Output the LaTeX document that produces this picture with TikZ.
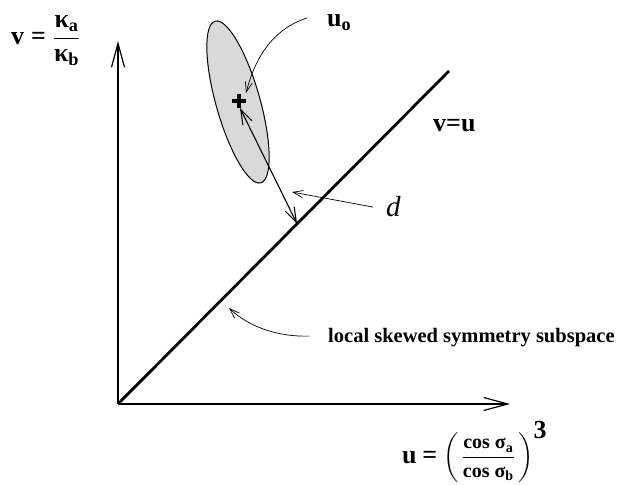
\documentclass[tikz,border=0pt]{standalone}
\usepackage{amsmath}
\usepackage{fontspec}
\setmainfont{Liberation Serif}
\usetikzlibrary{arrows.meta,calc}

\newcommand{\bigfont}{\bfseries\fontsize{26}{30}\selectfont}
\newcommand{\beq}{\mathrel{\text{=}}}

\begin{document}
\begin{tikzpicture}[x=1pt,y=1pt,
        axis/.style={line width=1.2pt,-{Straight Barb[length=24pt,width=13pt]}},
        pointer/.style={line width=0.7pt,-{Straight Barb[length=10pt,width=7pt]}},
        distarrow/.style={line width=1.1pt,{Straight Barb[length=15pt,width=10pt]}-{Straight Barb[length=15pt,width=10pt]}},
        lbl/.style={inner sep=0pt,font=\bigfont}]
        \useasboundingbox (0,0) rectangle (622,485);

        % Оси.
        \coordinate (O) at (118,81);
        \coordinate (vtop) at (118,444);
        \coordinate (uend) at (510,81);
        \draw[axis] (O) -- (vtop);
        \draw[axis] (O) -- (uend);

        % Подпространство v=u.
        \coordinate (D) at (449,414);
        \draw[line width=2.8pt] (O) -- (D);

        % Эллипс вокруг точки.
        \coordinate (E) at (238,383);
        \draw[fill=gray!30,line width=1pt,rotate around={15.8:(E)}]
            (E) ellipse (22pt and 84pt);

        % Точка u_o.
        \coordinate (P) at (239,384);
        \draw[line width=3.2pt] ($(P)+(-7,0)$) -- ($(P)+(7,0)$);
        \draw[line width=3.2pt] ($(P)+(0,-7)$) -- ($(P)+(0,7)$);

        % Расстояние d.
        \coordinate (F) at ($(O)!0.541!(D)$);
        \coordinate (Ptop) at ($(P)+(1,-7)$);
        \draw[distarrow] (Ptop) -- (F);

        % Подписи.
        \node[lbl,anchor=base west] (uo) at (327,458) {$\mathbf{u}_{\mathbf{o}}$};
        \node[lbl,anchor=base west] (vu) at (433,353) {v=u};
        \node[inner sep=0pt,anchor=base west,font=\itshape\fontsize{29}{34}\selectfont] (dlbl) at (386,268) {d};
        \node[inner sep=0pt,anchor=base west,font=\bfseries\fontsize{20.5}{24}\selectfont] (sub) at (328,142) {local skewed symmetry subspace};
        \node[lbl,anchor=west] (vlbl) at (11,444) {$\mathbf{v} \beq \dfrac{\text{κ}_{\mathbf{a}}}{\text{κ}_{\mathbf{b}}}$};
        \node[inner sep=0pt,anchor=west,font=\bfseries\fontsize{20}{24}\selectfont] (ulbl) at (402,33)
            {$\text{\bigfont u} \mathrel{\text{\bigfont =}} \left(\,\dfrac{\text{cos σ}_{\mathbf{a}}}{\text{cos σ}_{\mathbf{b}}}\,\right)^{\text{\bigfont 3}}$};

        % Стрелки к подписям.
        \coordinate (uotip) at ($(P)+(7,8)$);
        \coordinate (uotail) at ($(uo.west)+(-20,5)$);
        \coordinate (dtip) at (292,293);
        \coordinate (dtail) at ($(dlbl.west)+(-13,0)$);
        \coordinate (subtip) at (229,177);
        \coordinate (subtail) at ($(sub.west)+(-19,2)$);
        \draw[pointer] (uotail) .. controls (270,455) and (254,423) .. (uotip);
        \draw[pointer] (dtail) -- (dtip);
        \draw[pointer] (subtail) .. controls (280,148) and (250,157) .. (subtip);
    \end{tikzpicture}
\end{document}
